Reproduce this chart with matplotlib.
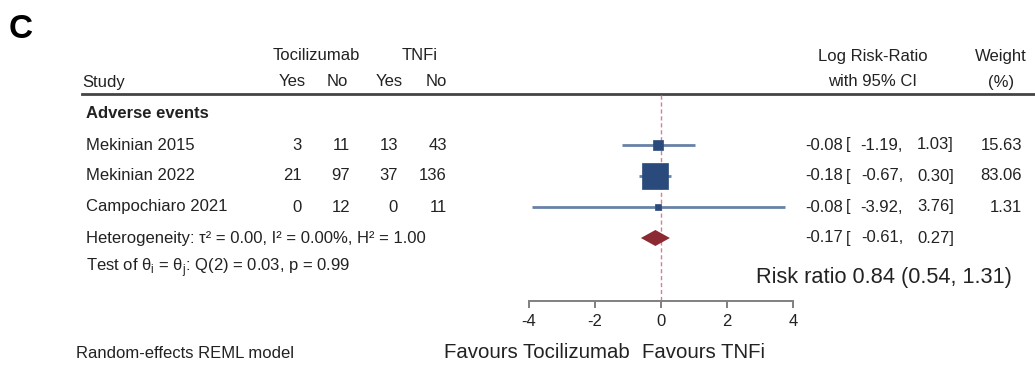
import numpy as np
import matplotlib
matplotlib.use("Agg")
import matplotlib.pyplot as plt

plt.rcParams['font.family'] = ['Liberation Sans', 'DejaVu Sans']
plt.rcParams['mathtext.fontset'] = 'custom'
plt.rcParams['mathtext.rm'] = 'Liberation Sans'

# Дані
studies = ["Mekinian 2015", "Mekinian 2022", "Campochiaro 2021"]
toci_yes = [3, 21, 0]
toci_no = [11, 97, 12]
tnfi_yes = [13, 37, 0]
tnfi_no = [43, 136, 11]
log_rr = [-0.08, -0.18, -0.08]
ci_lo = [-1.19, -0.67, -3.92]
ci_hi = [1.03, 0.30, 3.76]
weights = [15.63, 83.06, 1.31]
pooled = [-0.17, -0.61, 0.27]   # оцінка, нижня, верхня межа
xticks = [-4, -2, 0, 2, 4]

W, H = 1035, 366
txt = '#222222'
fs = 12

fig = plt.figure(figsize=(W / 100, H / 100), dpi=100)

# Осі для тексту (піксельні координати)
tx = fig.add_axes([0, 0, 1, 1])
tx.set_xlim(0, W)
tx.set_ylim(H, 0)
tx.axis('off')

# Осі для forest plot
x_m4, x_p4 = 529, 793
fx = fig.add_axes([x_m4 / W, 0, (x_p4 - x_m4) / W, 1])
fx.set_xlim(-4, 4)
fx.set_ylim(H, 0)
fx.patch.set_alpha(0)
for s in ['top', 'left', 'right']:
    fx.spines[s].set_visible(False)
fx.spines['bottom'].set_position(('data', 301))
fx.spines['bottom'].set_color('#808080')
fx.spines['bottom'].set_linewidth(1.4)
fx.set_yticks([])
fx.set_xticks(xticks)
fx.set_xticklabels([str(t) for t in xticks])
fx.tick_params(axis='x', colors='#808080', length=5, width=1.4, labelsize=fs,
               labelcolor=txt, pad=4)

# Рядки
y_head1, y_head2, y_line = 56, 82, 94
y_group = 113
y_rows = [145, 176, 207]
y_het, y_test = 238, 268

tx.text(21, 30, "C", fontsize=24, fontweight='bold', family='Liberation Sans',
        ha='center', va='center', color='black')

tx.text(316, y_head1, "Tocilizumab", fontsize=fs, ha='center', va='center', color=txt)
tx.text(420, y_head1, "TNFi", fontsize=fs, ha='center', va='center', color=txt)
tx.text(82, y_head2, "Study", fontsize=fs, ha='left', va='center', color=txt)
for xr, lab in zip([306, 348, 403, 447], ["Yes", "No", "Yes", "No"]):
    tx.text(xr, y_head2, lab, fontsize=fs, ha='right', va='center', color=txt)
tx.text(873, y_head1, "Log Risk-Ratio", fontsize=fs, ha='center', va='center', color=txt)
tx.text(873, y_head2, "with 95% CI", fontsize=fs, ha='center', va='center', color=txt)
tx.text(1001, y_head1, "Weight", fontsize=fs, ha='center', va='center', color=txt)
tx.text(1001, y_head2, "(%)", fontsize=fs, ha='center', va='center', color=txt)
tx.plot([82, W], [y_line, y_line], color='#444444', lw=2.0)

tx.text(86, y_group, "Adverse events", fontsize=fs, fontweight='bold',
        ha='left', va='center', color=txt)

cols = [toci_yes, toci_no, tnfi_yes, tnfi_no]
col_x = [302, 350, 398, 447]
for i, name in enumerate(studies):
    y = y_rows[i]
    tx.text(86, y, name, fontsize=fs, ha='left', va='center', color=txt)
    for c, xr in zip(cols, col_x):
        tx.text(xr, y, str(c[i]), fontsize=fs, ha='right', va='center', color=txt)


def ci_text(y, est, lo, hi):
    tx.text(843, y, f"{est:.2f}", fontsize=fs, ha='right', va='center', color=txt)
    tx.text(846, y, "[", fontsize=fs, ha='left', va='center', color=txt)
    tx.text(903, y, f"{lo:.2f},", fontsize=fs, ha='right', va='center', color=txt)
    tx.text(954, y, f"{hi:.2f}]", fontsize=fs, ha='right', va='center', color=txt)


for i in range(len(studies)):
    y = y_rows[i]
    ci_text(y, log_rr[i], ci_lo[i], ci_hi[i])
    tx.text(1022, y, f"{weights[i]:.2f}", fontsize=fs, ha='right', va='center', color=txt)
ci_text(y_het, *pooled)

tx.text(86, y_het, "Heterogeneity: τ² = 0.00, I² = 0.00%, H² = 1.00",
        fontsize=fs, ha='left', va='center', color=txt)
tx.text(86, y_test, r"Test of θ$_{\mathrm{i}}$ = θ$_{\mathrm{j}}$: Q(2) = 0.03, p = 0.99",
        fontsize=fs, ha='left', va='center', color=txt)

tx.text(1012, 278, "Risk ratio 0.84 (0.54, 1.31)", fontsize=15.7,
        ha='right', va='center', color=txt)

tx.text(76, 353, "Random-effects REML model", fontsize=fs, ha='left', va='center', color=txt)
tx.text(630, 353, "Favours Tocilizumab", fontsize=14.7, ha='right', va='center', color=txt)
tx.text(642, 353, "Favours TNFi", fontsize=14.7, ha='left', va='center', color=txt)

# Лінія нуля
fx.plot([0, 0], [y_line + 1, 301], color='#e57a8c', lw=1.0, ls=(0, (3, 2)), zorder=1)

# Довірчі інтервали і квадрати
for i in range(len(studies)):
    y = y_rows[i]
    fx.plot([ci_lo[i], ci_hi[i]], [y, y], color='#6882a6', lw=2.0, zorder=2,
            solid_capstyle='butt')
    side_px = max(6, 2.75 * np.sqrt(weights[i]))
    fx.scatter([log_rr[i]], [y], marker='s', s=(side_px * 0.72) ** 2,
               color='#2b4a7c', edgecolors='#2b4a7c', linewidths=0.5, zorder=3)

# Ромб для загальної оцінки
est, lo, hi = pooled
fx.fill([lo, est, hi, est], [y_het, y_het - 8, y_het, y_het + 8],
        color='#8b2a32', zorder=3, lw=0)

fig.savefig("out.png", dpi=100)
